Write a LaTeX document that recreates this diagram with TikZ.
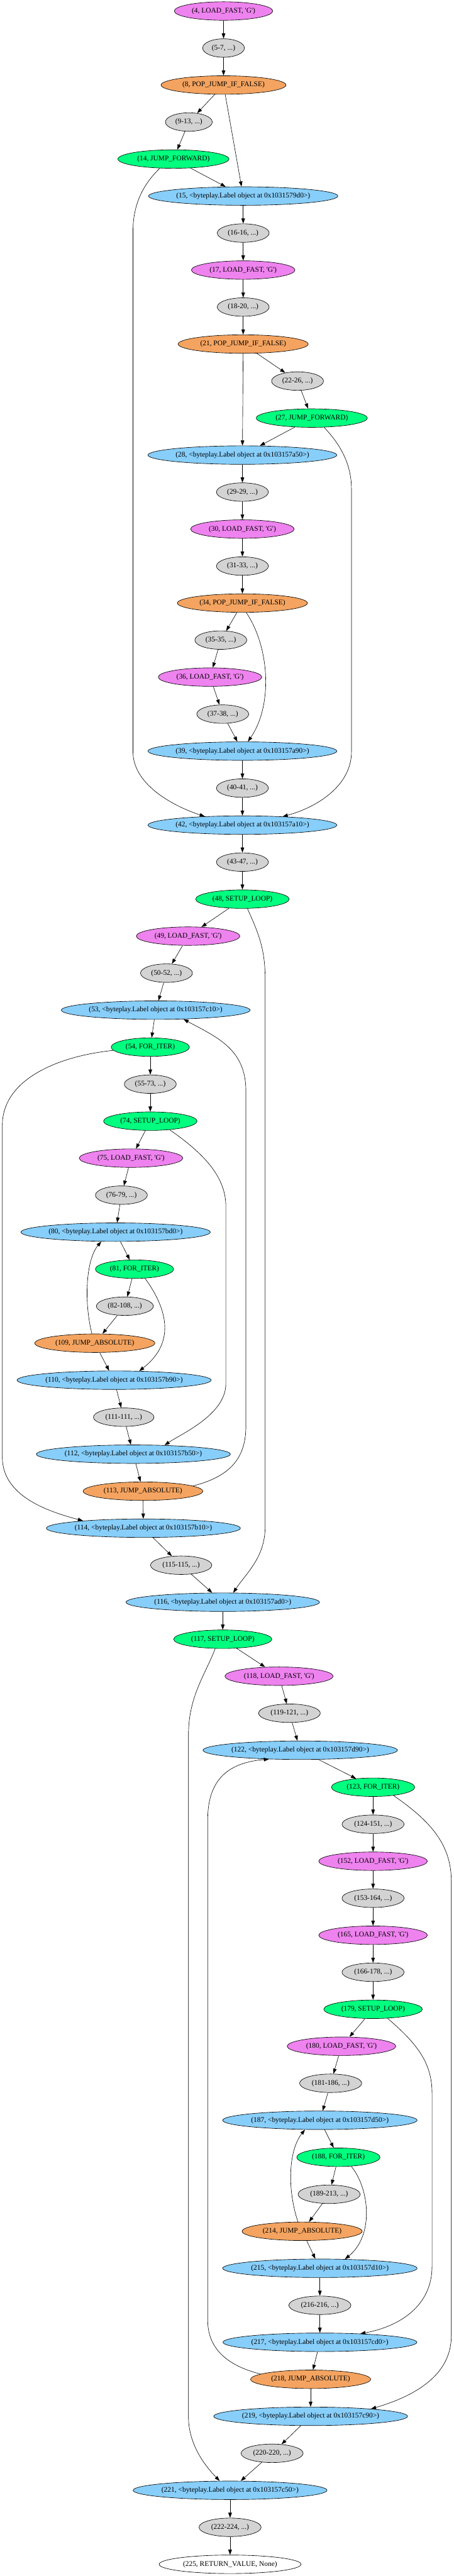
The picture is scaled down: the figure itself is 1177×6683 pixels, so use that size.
\documentclass[tikz,border=0pt]{standalone}
\usepackage{fontspec}
\setmainfont{Liberation Serif}
\usepackage{tikz}
\usetikzlibrary{arrows.meta}
\usetikzlibrary{shapes.geometric}
\definecolor{ldfill}{HTML}{EE82EE}
\definecolor{rngfill}{HTML}{D3D3D3}
\definecolor{jmpfill}{HTML}{F4A460}
\definecolor{ctlfill}{HTML}{00FF7F}
\definecolor{lblfill}{HTML}{87CEFA}
\newcommand{\tq}{\textquotesingle}

\begin{document}
\begin{tikzpicture}[x=0.75pt,y=-0.75pt,>={Triangle[length=10pt,width=7pt]},line width=0.75pt]
\tikzstyle{op}=[ellipse,draw,line width=0.8pt,minimum height=36pt,inner xsep=6pt,inner ysep=2pt,font=\fontsize{14}{16}\selectfont]
\tikzstyle{ld}=[op,fill=ldfill]
\tikzstyle{rng}=[op,fill=rngfill]
\tikzstyle{jmp}=[op,fill=jmpfill]
\tikzstyle{ctl}=[op,fill=ctlfill]
\tikzstyle{lbl}=[op,fill=lblfill,inner xsep=0pt]
\tikzstyle{ret}=[op,fill=white]
\useasboundingbox (0,0) rectangle (1177,6683);
\node[ld]  (n4)   at (580,28.6)   {(4, LOAD\_FAST, \tq G\tq)};
\node[rng] (n5)   at (580,124.6)  {(5-7, ...)};
\node[jmp] (n8)   at (580,220.6)  {(8, POP\_JUMP\_IF\_FALSE)};
\node[rng] (n9)   at (490,316.6)  {(9-13, ...)};
\node[ctl] (n14)  at (450,412.6)  {(14, JUMP\_FORWARD)};
\node[lbl] (n15)  at (631,508.6)  {(15, <byteplay.Label object at 0x1031579d0>)};
\node[rng] (n16)  at (631,604.6)  {(16-16, ...)};
\node[ld]  (n17)  at (631,700.6)  {(17, LOAD\_FAST, \tq G\tq)};
\node[rng] (n18)  at (631,796.6)  {(18-20, ...)};
\node[jmp] (n21)  at (631,892.6)  {(21, POP\_JUMP\_IF\_FALSE)};
\node[rng] (n22)  at (772,988.6)  {(22-26, ...)};
\node[ctl] (n27)  at (809,1084.6) {(27, JUMP\_FORWARD)};
\node[lbl] (n28)  at (629,1180.6) {(28, <byteplay.Label object at 0x103157a50>)};
\node[rng] (n29)  at (629,1276.6) {(29-29, ...)};
\node[ld]  (n30)  at (629,1372.6) {(30, LOAD\_FAST, \tq G\tq)};
\node[rng] (n31)  at (629,1468.6) {(31-33, ...)};
\node[jmp] (n34)  at (629,1564.6) {(34, POP\_JUMP\_IF\_FALSE)};
\node[rng] (n35)  at (573,1660.6) {(35-35, ...)};
\node[ld]  (n36)  at (545,1756.6) {(36, LOAD\_FAST, \tq G\tq)};
\node[rng] (n37)  at (578,1852.6) {(37-38, ...)};
\node[lbl] (n39)  at (629,1948.6) {(39, <byteplay.Label object at 0x103157a90>)};
\node[rng] (n40)  at (629,2044.6) {(40-41, ...)};
\node[lbl] (n42)  at (629,2140.6) {(42, <byteplay.Label object at 0x103157a10>)};
\node[rng] (n43)  at (629,2236.6) {(43-47, ...)};
\node[ctl] (n48)  at (629,2332.6) {(48, SETUP\_LOOP)};
\node[ld]  (n49)  at (488,2428.6) {(49, LOAD\_FAST, \tq G\tq)};
\node[rng] (n50)  at (432,2524.6) {(50-52, ...)};
\node[lbl] (n53)  at (404,2620.6) {(53, <byteplay.Label object at 0x103157c10>)};
\node[ctl] (n54)  at (390,2716.6) {(54, FOR\_ITER)};
\node[rng] (n55)  at (390,2812.6) {(55-73, ...)};
\node[ctl] (n74)  at (390,2908.6) {(74, SETUP\_LOOP)};
\node[ld]  (n75)  at (340,3004.6) {(75, LOAD\_FAST, \tq G\tq)};
\node[rng] (n76)  at (315,3100.6) {(76-79, ...)};
\node[lbl] (n80)  at (300,3196.6) {(80, <byteplay.Label object at 0x103157bd0>)};
\node[ctl] (n81)  at (349,3292.6) {(81, FOR\_ITER)};
\node[rng] (n82)  at (324,3388.6) {(82-108, ...)};
\node[jmp] (n109) at (246,3484.6) {(109, JUMP\_ABSOLUTE)};
\node[lbl] (n110) at (296,3580.6) {(110, <byteplay.Label object at 0x103157b90>)};
\node[rng] (n111) at (321,3676.6) {(111-111, ...)};
\node[lbl] (n112) at (346,3772.6) {(112, <byteplay.Label object at 0x103157b50>)};
\node[jmp] (n113) at (371,3868.6) {(113, JUMP\_ABSOLUTE)};
\node[lbl] (n114) at (372,3964.6) {(114, <byteplay.Label object at 0x103157b10>)};
\node[rng] (n115) at (470,4060.6) {(115-115, ...)};
\node[lbl] (n116) at (578,4156.6) {(116, <byteplay.Label object at 0x103157ad0>)};
\node[ctl] (n117) at (578,4252.6) {(117, SETUP\_LOOP)};
\node[ld]  (n118) at (724,4348.6) {(118, LOAD\_FAST, \tq G\tq)};
\node[rng] (n119) at (751,4444.6) {(119-121, ...)};
\node[lbl] (n122) at (779,4540.6) {(122, <byteplay.Label object at 0x103157d90>)};
\node[ctl] (n123) at (968,4636.6) {(123, FOR\_ITER)};
\node[rng] (n124) at (968,4732.6) {(124-151, ...)};
\node[ld]  (n152) at (968,4828.6) {(152, LOAD\_FAST, \tq G\tq)};
\node[rng] (n153) at (968,4924.6) {(153-164, ...)};
\node[ld]  (n165) at (968,5020.6) {(165, LOAD\_FAST, \tq G\tq)};
\node[rng] (n166) at (968,5116.6) {(166-178, ...)};
\node[ctl] (n179) at (968,5212.6) {(179, SETUP\_LOOP)};
\node[ld]  (n180) at (886,5308.6) {(180, LOAD\_FAST, \tq G\tq)};
\node[rng] (n181) at (858,5404.6) {(181-186, ...)};
\node[lbl] (n187) at (830,5500.6) {(187, <byteplay.Label object at 0x103157d50>)};
\node[ctl] (n188) at (878,5596.6) {(188, FOR\_ITER)};
\node[rng] (n189) at (854,5692.6) {(189-213, ...)};
\node[jmp] (n214) at (784,5788.6) {(214, JUMP\_ABSOLUTE)};
\node[lbl] (n215) at (830,5884.6) {(215, <byteplay.Label object at 0x103157d10>)};
\node[rng] (n216) at (830,5980.6) {(216-216, ...)};
\node[lbl] (n217) at (830,6076.6) {(217, <byteplay.Label object at 0x103157cd0>)};
\node[jmp] (n218) at (806,6172.6) {(218, JUMP\_ABSOLUTE)};
\node[lbl] (n219) at (806,6268.6) {(219, <byteplay.Label object at 0x103157c90>)};
\node[rng] (n220) at (706,6364.6) {(220-220, ...)};
\node[lbl] (n221) at (597,6460.6) {(221, <byteplay.Label object at 0x103157c50>)};
\node[rng] (n222) at (597,6556.6) {(222-224, ...)};
\node[ret] (n225) at (597,6652.6) {(225, RETURN\_VALUE, None)};
\foreach \a/\b in {n4/n5, n5/n8, n8/n9, n9/n14, n14/n15, n15/n16, n16/n17, n17/n18, n18/n21, n21/n22,
  n22/n27, n27/n28, n28/n29, n29/n30, n30/n31, n31/n34, n34/n35, n35/n36, n36/n37, n37/n39, n39/n40,
  n40/n42, n42/n43, n43/n48, n48/n49, n49/n50, n50/n53, n53/n54, n54/n55, n55/n74, n74/n75, n75/n76,
  n76/n80, n80/n81, n81/n82, n82/n109, n109/n110, n110/n111, n111/n112, n112/n113, n113/n114,
  n114/n115, n115/n116, n116/n117, n117/n118, n118/n119, n119/n122, n122/n123, n123/n124,
  n124/n152, n152/n153, n153/n165, n165/n166, n166/n179, n179/n180, n180/n181, n181/n187,
  n187/n188, n188/n189, n189/n214, n214/n215, n215/n216, n216/n217, n217/n218, n218/n219,
  n219/n220, n220/n221, n221/n222, n222/n225, n8/n15, n21/n28}
  \draw[->] (\a) -- (\b);
\draw[->] (n14.214) .. controls (380,470) and (345,520) .. (345,600) -- (345,1950) .. controls (345,2040) and (460,2095) .. (n42.167);
\draw[->] (n27.-37) .. controls (880,1150) and (912,1200) .. (912,1270) -- (912,1950) .. controls (912,2040) and (820,2095) .. (n42.12);
\draw[->] (n34.-68) .. controls (700,1680) and (708,1830) .. (n39.60);
\draw[->] (n48.-62) .. controls (670,2420) and (688,2460) .. (688,2540) -- (688,3960) .. controls (688,4040) and (640,4080) .. (n116.42);
\draw[->] (n54.185) .. controls (150,2740) and (6,2800) .. (6,2920) -- (6,3780) .. controls (6,3880) and (120,3920) .. (n114.173);
\draw[->] (n113.6) .. controls (600,3830) and (638,3780) .. (638,3700) -- (638,2830) .. controls (638,2720) and (560,2690) .. (n53.-18);
\draw[->] (n74.-24) .. controls (540,3000) and (586,3060) .. (586,3130) -- (586,3590) .. controls (586,3670) and (470,3720) .. (n112.16);
\draw[->] (n109.107) .. controls (218,3380) and (222,3270) .. (n80.213);
\draw[->] (n81.-41) .. controls (430,3390) and (460,3480) .. (n110.20);
\draw[->] (n117.231) .. controls (535,4340) and (489,4400) .. (489,4500) -- (489,6270) .. controls (489,6340) and (530,6395) .. (n221.138);
\draw[->] (n123.-22) .. controls (1110,4720) and (1171,4780) .. (1171,4880) -- (1171,6060) .. controls (1171,6160) and (1080,6215) .. (n219.7);
\draw[->] (n218.174) .. controls (600,6140) and (539,6100) .. (539,6020) -- (539,4720) .. controls (539,4610) and (600,4572) .. (n122.196);
\draw[->] (n179.-32) .. controls (1080,5300) and (1121,5350) .. (1121,5430) -- (1121,5880) .. controls (1121,5980) and (1040,6035) .. (n217.12);
\draw[->] (n214.114) .. controls (745,5680) and (748,5580) .. (n187.212);
\draw[->] (n188.-35) .. controls (960,5680) and (970,5800) .. (n215.20);
\end{tikzpicture}
\end{document}
